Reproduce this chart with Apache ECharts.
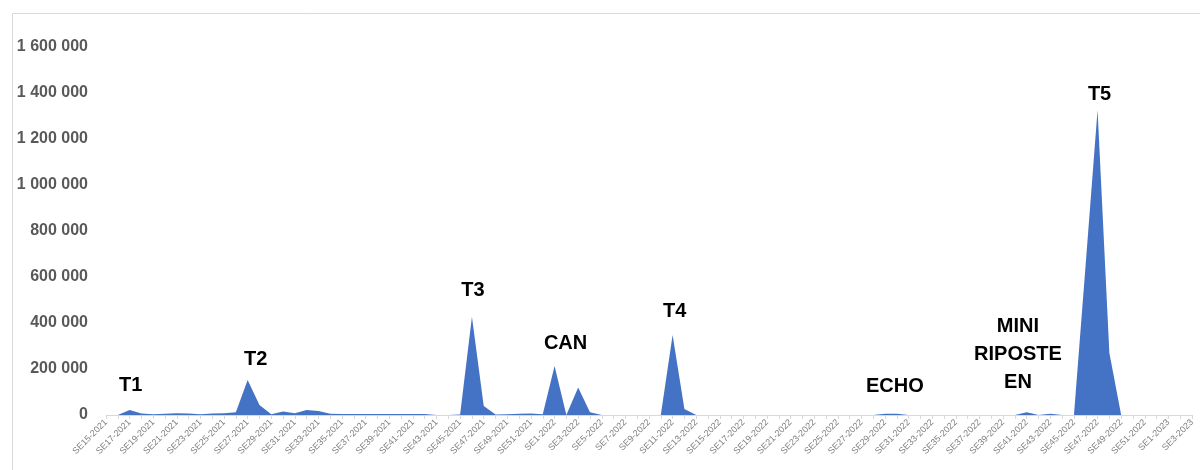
<!DOCTYPE html>
<html>
<head>
<meta charset="utf-8">
<script src="https://cdn.jsdelivr.net/npm/echarts@6/dist/echarts.min.js"></script>
<style>
html,body{margin:0;padding:0;background:#fff;}
#chart{width:1200px;height:470px;}
</style>
</head>
<body>
<div id="chart"></div>
<script>
var categories = [
'SE15-2021','SE16-2021','SE17-2021','SE18-2021','SE19-2021','SE20-2021','SE21-2021','SE22-2021','SE23-2021','SE24-2021',
'SE25-2021','SE26-2021','SE27-2021','SE28-2021','SE29-2021','SE30-2021','SE31-2021','SE32-2021','SE33-2021','SE34-2021',
'SE35-2021','SE36-2021','SE37-2021','SE38-2021','SE39-2021','SE40-2021','SE41-2021','SE42-2021','SE43-2021','SE44-2021',
'SE45-2021','SE46-2021','SE47-2021','SE48-2021','SE49-2021','SE50-2021','SE51-2021','SE52-2021',
'SE1-2022','SE2-2022','SE3-2022','SE4-2022','SE5-2022','SE6-2022','SE7-2022','SE8-2022','SE9-2022','SE10-2022',
'SE11-2022','SE12-2022','SE13-2022','SE14-2022','SE15-2022','SE16-2022','SE17-2022','SE18-2022','SE19-2022','SE20-2022',
'SE21-2022','SE22-2022','SE23-2022','SE24-2022','SE25-2022','SE26-2022','SE27-2022','SE28-2022','SE29-2022','SE30-2022',
'SE31-2022','SE32-2022','SE33-2022','SE34-2022','SE35-2022','SE36-2022','SE37-2022','SE38-2022','SE39-2022','SE40-2022',
'SE41-2022','SE42-2022','SE43-2022','SE44-2022','SE45-2022','SE46-2022','SE47-2022','SE48-2022','SE49-2022','SE50-2022',
'SE51-2022','SE52-2022','SE1-2023','SE2-2023','SE3-2023'
];

var values = [
0,0,22000,7000,3000,5000,8000,7000,3000,6000,
8000,12000,152000,43000,3000,15000,8000,22000,17000,5000,
4000,4000,4000,4000,4000,4000,4000,4000,0,0,
2000,427000,39000,2000,3000,5000,6000,3000,
213000,0,120000,12000,0,0,0,0,0,0,
348000,26000,0,0,0,0,0,0,0,0,
0,0,0,0,0,0,0,0,5000,5000,
0,0,0,0,0,0,0,0,0,0,
12000,0,5000,0,0,660000,1326000,270000,0,0,
0,0,0,0,0
];

var yTicks = [0,200000,400000,600000,800000,1000000,1200000,1400000,1600000];

var annotationNames = ['T1','T2','T3','CAN','T4','ECHO','MINI\nRIPOSTE\nEN','T5'];
var annotationCategories = ['SE17-2021','SE27-2021','SE46-2021','SE1-2022','SE11-2022','SE30-2022','SE40-2022','SE47-2022'];
var annotationLevels = [130000,243000,543000,313000,448000,122000,261000,1392000];
var annotationShiftX = [1,8,1,11,2,-2,3,2];

function fmt(v){ return String(v).replace(/\B(?=(\d{3})+(?!\d))/g,' '); }

var chart = echarts.init(document.getElementById('chart'));
var markData = annotationNames.map(function(n,i){
  return {
    name: n,
    coord: [annotationCategories[i], annotationLevels[i]],
    label: {offset:[annotationShiftX[i],0]}
  };
});

chart.setOption({
  animation:false,
  backgroundColor:'#ffffff',
  graphic:[{
    type:'rect', left:10, top:11, shape:{width:1300, height:600},
    style:{fill:'none', stroke:'#d9d9d9', lineWidth:1}, silent:true, z:-1
  }],
  grid:{left:106, right:8, top:47, bottom:55},
  xAxis:{
    type:'category', data:categories, boundaryGap:false,
    axisLine:{lineStyle:{color:'#d9d9d9', width:1}},
    axisTick:{show:true, interval:0, length:4, lineStyle:{color:'#d9d9d9'}},
    axisLabel:{interval:1, rotate:45, fontSize:9, color:'#7f7f7f', fontFamily:'Liberation Sans', margin:6},
    splitLine:{show:false}
  },
  yAxis:{
    type:'value', min:yTicks[0], max:yTicks[yTicks.length-1], interval:200000,
    axisLine:{show:false}, axisTick:{show:false}, splitLine:{show:false},
    axisLabel:{formatter:fmt, fontSize:16, fontWeight:'bold', color:'#595959', fontFamily:'Liberation Sans', margin:18}
  },
  series:[{
    type:'line', data:values, symbol:'none', smooth:false,
    lineStyle:{width:0, color:'#4472C4'},
    itemStyle:{color:'#4472C4'},
    areaStyle:{color:'#4472C4', opacity:1},
    markPoint:{
      symbol:'circle', symbolSize:1, itemStyle:{color:'rgba(0,0,0,0)'},
      label:{show:true, position:'inside', formatter:'{b}', color:'#000000', fontSize:20, fontWeight:'bold',
             fontFamily:'Liberation Sans', lineHeight:28, align:'center'},
      data:markData
    }
  }]
});
</script>
</body>
</html>
